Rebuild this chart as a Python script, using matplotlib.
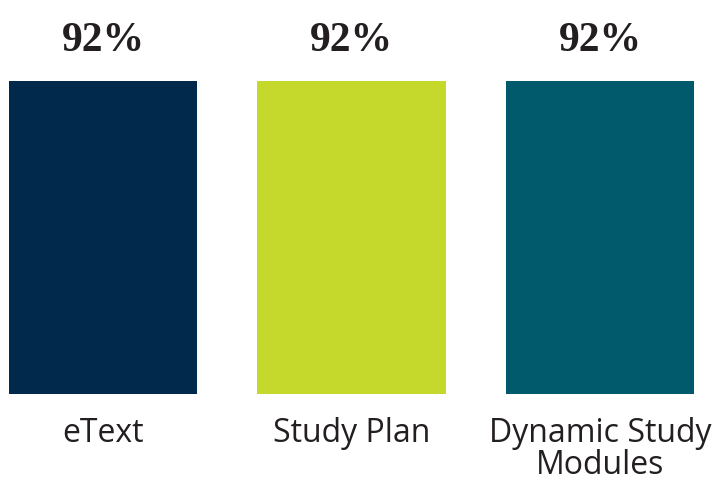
import matplotlib
matplotlib.use('Agg')
import matplotlib.pyplot as plt

categories = ['eText', 'Study Plan', 'Dynamic Study\nModules']
values = [92, 92, 92]
value_labels = ['92%', '92%', '92%']
colors = ['#00294b', '#c5d92d', '#005a6b']

TEXT = '#231f20'

fig = plt.figure(figsize=(7.25, 4.81), dpi=100)
ax = fig.add_axes([0, 0.1788, 1, 0.6507])

x = range(len(categories))
ax.bar(x, values, width=0.757, color=colors, edgecolor='none')
ax.set_xlim(-0.4145, 2.503)
ax.set_ylim(0, 92)
ax.axis('off')

for xi, v, lab in zip(x, values, value_labels):
    ax.text(xi, v + 12, lab, ha='center', va='center', fontsize=30,
            fontweight='bold', family='Liberation Serif', color=TEXT)

for xi, cat in zip(x, categories):
    ax.text(xi, -6.5, cat, ha='center', va='top', fontsize=23,
            family='Open Sans', color=TEXT, linespacing=0.95)

fig.savefig('out.png', dpi=100)
